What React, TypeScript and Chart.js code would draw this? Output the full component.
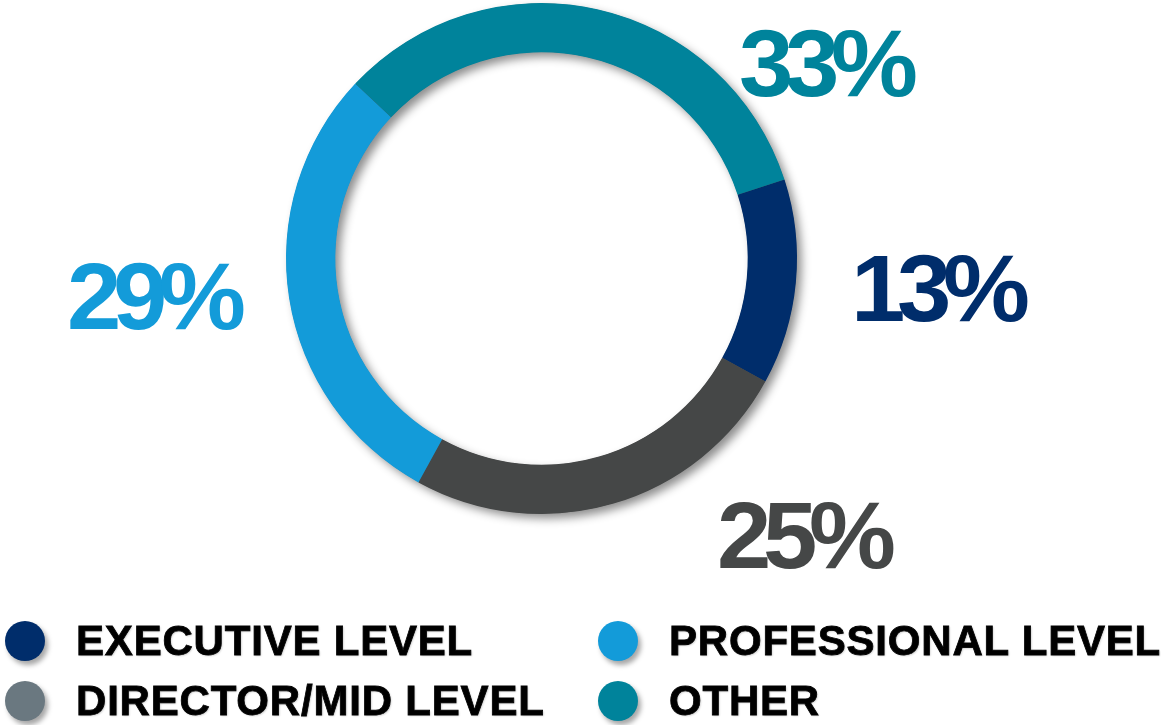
import React, { useEffect, useRef } from "react";
import { Chart, registerables } from "chart.js";

Chart.register(...registerables);

const categories = ["EXECUTIVE LEVEL", "DIRECTOR/MID LEVEL", "PROFESSIONAL LEVEL", "OTHER"];
const values = [13, 25, 29, 33];
const percentLabels = ["13%", "25%", "29%", "33%"];
const ringColors = ["#002D6B", "#454747", "#139BD9", "#00839B"];
const legendColors = ["#002D6B", "#6A7880", "#139BD9", "#00839B"];

// label placement relative to ring centre (layout only)
const labelOffsets: [number, number][] = [
  [399, 30],
  [265, 277],
  [-385, 38],
  [287, -195],
];

const ringShadowPlugin = {
  id: "ringShadow",
  beforeDatasetsDraw(chart: any) {
    const meta = chart.getDatasetMeta(0);
    const a = meta.data[0];
    if (!a) return;
    const { x, y, innerRadius, outerRadius } = a.getProps(["x", "y", "innerRadius", "outerRadius"], true);
    const ctx = chart.ctx;
    ctx.save();
    ctx.shadowColor = "rgba(0,0,0,0.45)";
    ctx.shadowBlur = 10;
    ctx.shadowOffsetX = 5;
    ctx.shadowOffsetY = 5;
    ctx.beginPath();
    ctx.arc(x, y, outerRadius - 0.5, 0, Math.PI * 2, false);
    ctx.arc(x, y, innerRadius + 0.5, 0, Math.PI * 2, true);
    ctx.closePath();
    ctx.fillStyle = "#555";
    ctx.fill("evenodd");
    ctx.restore();
  },
};

const percentLabelPlugin = {
  id: "percentLabels",
  afterDatasetsDraw(chart: any) {
    const meta = chart.getDatasetMeta(0);
    const ctx = chart.ctx;
    meta.data.forEach((arc: any, i: number) => {
      const { x, y } = arc.getProps(["x", "y"], true);
      const [dx, dy] = labelOffsets[i];
      ctx.save();
      ctx.translate(x + dx, y + dy);
      ctx.scale(1.04, 1);
      ctx.font = "bold 94px 'Liberation Sans', Arial, sans-serif";
      (ctx as any).letterSpacing = "-8px";
      ctx.fillStyle = ringColors[i];
      ctx.textAlign = "center";
      ctx.textBaseline = "alphabetic";
      ctx.fillText(percentLabels[i], -4, 32);
      ctx.restore();
    });
  },
};

export default function App() {
  const canvasRef = useRef<HTMLCanvasElement | null>(null);

  useEffect(() => {
    document.body.style.margin = "0";
    const canvas = canvasRef.current;
    if (!canvas) return;
    const chart = new Chart(canvas, {
      type: "doughnut",
      data: {
        labels: categories,
        datasets: [
          {
            data: values,
            backgroundColor: ringColors,
            borderWidth: 0,
            hoverOffset: 0,
          },
        ],
      },
      options: {
        animation: false,
        responsive: true,
        maintainAspectRatio: false,
        rotation: 72,
        cutout: "80.7%",
        layout: { padding: { left: 286, top: 3, right: 364, bottom: 211 } },
        plugins: {
          legend: { display: false },
          tooltip: { enabled: false },
        },
      },
      plugins: [ringShadowPlugin, percentLabelPlugin],
    });
    return () => chart.destroy();
  }, []);

  const legendItem = (i: number, left: number, top: number) => (
    <div
      key={i}
      style={{ position: "absolute", left, top, height: 40, display: "flex", alignItems: "center" }}
    >
      <div
        style={{
          width: 40,
          height: 40,
          borderRadius: "50%",
          background: legendColors[i],
          boxShadow: "3px 4px 5px rgba(0,0,0,0.35)",
          flex: "0 0 auto",
        }}
      />
      <span
        style={{
          marginLeft: 31,
          fontFamily: "'Liberation Sans', Arial, sans-serif",
          fontWeight: 700,
          fontSize: 42,
          letterSpacing: 0.8,
          color: "#000",
          WebkitTextStroke: "0.8px #000",
          textShadow: "1px 1px 2px rgba(0,0,0,0.2)",
          whiteSpace: "nowrap",
          lineHeight: "40px",
        }}
      >
        {categories[i]}
      </span>
    </div>
  );

  return (
    <div style={{ position: "absolute", left: 0, top: 0, width: 1161, height: 725, background: "#fff", overflow: "hidden" }}>
      <div style={{ position: "absolute", left: 0, top: 0, width: 1161, height: 725 }}>
        <canvas ref={canvasRef} />
      </div>
      {legendItem(0, 5, 621)}
      {legendItem(1, 5, 681)}
      {legendItem(2, 598, 621)}
      {legendItem(3, 598, 681)}
    </div>
  );
}
